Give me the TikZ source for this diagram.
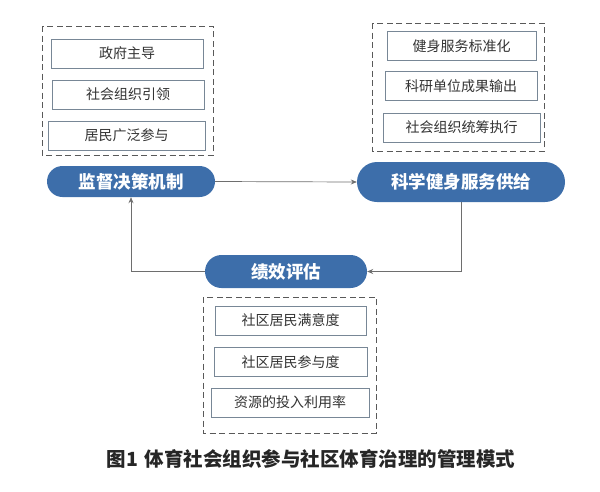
\documentclass[tikz,border=0pt]{standalone}
\usepackage{fontspec}
\setmainfont{Noto Sans CJK SC}
\usepackage{tikz}
\usetikzlibrary{arrows.meta}
\definecolor{pillblue}{RGB}{61,110,170}
\definecolor{itemline}{RGB}{120,135,150}
\definecolor{flowgray}{RGB}{110,110,110}
\tikzset{
  pill/.style={fill=pillblue,text=white,inner sep=0pt,
    font=\fontsize{17.5}{19}\selectfont\bfseries},
  itembox/.style={draw=itemline,line width=0.8pt,fill=white,text=black!80,
    minimum width=152pt,minimum height=29pt,inner sep=0pt,
    font=\fontsize{14}{16}\selectfont},
  groupbox/.style={draw=black!65,dash pattern=on 6pt off 3.5pt,line width=0.9pt},
  flow/.style={draw=flowgray,line width=0.7pt,-{Stealth[length=6pt,width=5pt]}}
}

\begin{document}
\begin{tikzpicture}[x=1pt,y=-1pt]
\useasboundingbox (0,0) rectangle (600,491);
% groups of items
\draw[groupbox] (42,26) rectangle (213,155);
\draw[groupbox] (372,23) rectangle (544,151);
\draw[groupbox] (203,297) rectangle (376,433);
% left group
\node[itembox] (zfzd) at (127,53.5) {政府主导};
\node[itembox] (shzz) at (128,94.5) {社会组织引领};
\node[itembox,minimum width=157pt] (jmcy) at (126.5,135.5) {居民广泛参与};
% right group
\node[itembox,minimum width=149pt] (jsfw) at (461.5,46) {健身服务标准化};
\node[itembox] (kydw) at (461,86) {科研单位成果输出};
\node[itembox,minimum width=157pt] (shtc) at (461.5,127.5) {社会组织统筹执行};
% bottom group
\node[itembox,minimum width=151pt] (myd) at (290.5,320.5) {社区居民满意度};
\node[itembox,minimum width=153pt] (cyd) at (290.5,362) {社区居民参与度};
\node[itembox,minimum width=158pt] (lyl) at (290,402.5) {资源的投入利用率};
% the three stages
\node[pill,rounded corners=15.5pt,minimum width=168pt,minimum height=31pt] (jdjc) at (131,181.5) {监督决策机制};
\node[pill,rounded corners=20pt,minimum width=208pt,minimum height=40pt] (kxfw) at (461,182) {科学健身服务供给};
\node[pill,rounded corners=16.5pt,minimum width=162pt,minimum height=33pt] (jxpg) at (286,271.5) {绩效评估};
% cycle
\draw[flow] (jdjc.east) -- (kxfw.west);
\draw[flow] (kxfw.south) |- (jxpg.east);
\draw[flow] (jxpg.west) -| (jdjc.south);
% caption
\node[font=\fontsize{19.5}{21}\selectfont\bfseries,text=black!85] (cap) at (311,459)
  {图1\hspace{7pt}体育社会组织参与社区体育治理的管理模式};
\end{tikzpicture}
\end{document}
